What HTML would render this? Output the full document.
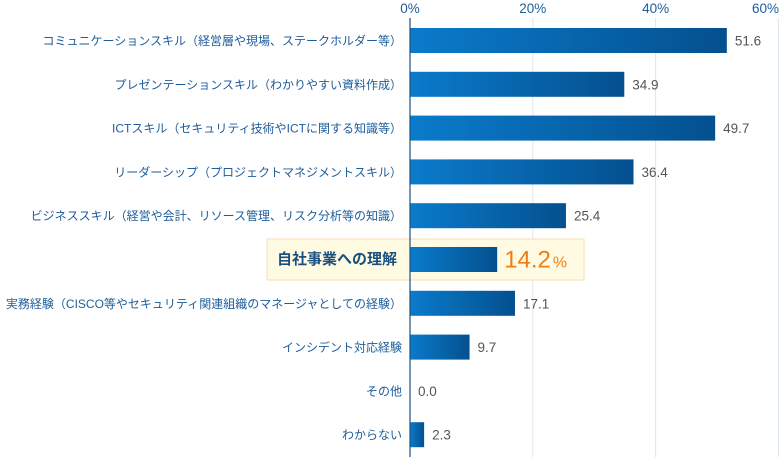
<!DOCTYPE html>
<html><head><meta charset="utf-8"><style>
body{margin:0;background:#fff;}
svg{display:block;font-family:"Liberation Sans","Noto Sans CJK JP",sans-serif;}
</style></head><body>
<svg id="chart" width="780" height="457" viewBox="0 0 780 457">
<defs>
<linearGradient id="g" x1="0" x2="1" y1="0" y2="0"><stop offset="0" stop-color="#0a7bcb"/><stop offset="1" stop-color="#04508f"/></linearGradient>
</defs>
<g id="grid"></g>
<rect x="267" y="239" width="317" height="41" fill="#fffbe3" stroke="#f7dfb0" stroke-width="1"/>
<g id="bars"></g>
</svg>
<script>
const categories=["コミュニケーションスキル（経営層や現場、ステークホルダー等）","プレゼンテーションスキル（わかりやすい資料作成）","ICTスキル（セキュリティ技術やICTに関する知識等）","リーダーシップ（プロジェクトマネジメントスキル）","ビジネススキル（経営や会計、リソース管理、リスク分析等の知識）","自社事業への理解","実務経験（CISCO等やセキュリティ関連組織のマネージャとしての経験）","インシデント対応経験","その他","わからない"];
const values=[51.6,34.9,49.7,36.4,25.4,14.2,17.1,9.7,0.0,2.3];
const ticks=[0,20,40,60];
const highlightIndex=5;
const NS="http://www.w3.org/2000/svg";
const svg=document.getElementById('chart'),grid=document.getElementById('grid'),bars=document.getElementById('bars');
const x0=410,pxPer=6.14,y0=40.5,step=43.8,bh=25;
const x=v=>x0+v*pxPer, y=i=>y0+i*step;
function mk(t,a,p){const e=document.createElementNS(NS,t);for(const k in a)e.setAttribute(k,a[k]);(p||svg).appendChild(e);return e;}
ticks.forEach(t=>{
  if(t>0){const l=mk('line',{x1:x(t),x2:x(t),y1:18,y2:457,stroke:'#dbe6ef','stroke-width':1},grid);
  
  }
  const tx=mk('text',{x:t===60?779:x(t),y:13,'font-size':13.5,fill:'#1d5d9b','text-anchor':t===60?'end':'middle'},grid);
  tx.textContent=t+'%';
  
  
});
categories.forEach((c,i)=>{
  const cy=y(i);
  const r=mk('rect',{x:x0,y:cy-bh/2,width:Math.max(0,x(values[i])-x0),height:bh,fill:'url(#g)'},bars);
  
  
  const hl=i===highlightIndex;
  const lab=mk('text',{x:hl?397:402,y:cy+4.5,'font-size':hl?15:12,'font-weight':hl?'bold':'normal',fill:hl?'#1b4f80':'#1d5d9b','text-anchor':'end'},bars);
  lab.textContent=c;
  
  
  if(!hl){const w=lab.getComputedTextLength();if(w>398){lab.setAttribute('textLength',398);lab.setAttribute('lengthAdjust','spacingAndGlyphs');}}
  const vt=mk('text',{x:x(values[i])+(hl?7:8),y:cy+(hl?8:5),'font-size':hl?24:13.5,fill:hl?'#f07d14':'#555'},bars);
  if(hl){vt.textContent=values[i].toFixed(1);const s=mk('tspan',{'font-size':16,dx:2},vt);s.textContent='%';}
  else vt.textContent=values[i].toFixed(1);
  
  
});
const ax=mk('line',{x1:x0,x2:x0,y1:18,y2:457,stroke:'#1b4f80','stroke-width':1.2});


</script>
</body></html>
